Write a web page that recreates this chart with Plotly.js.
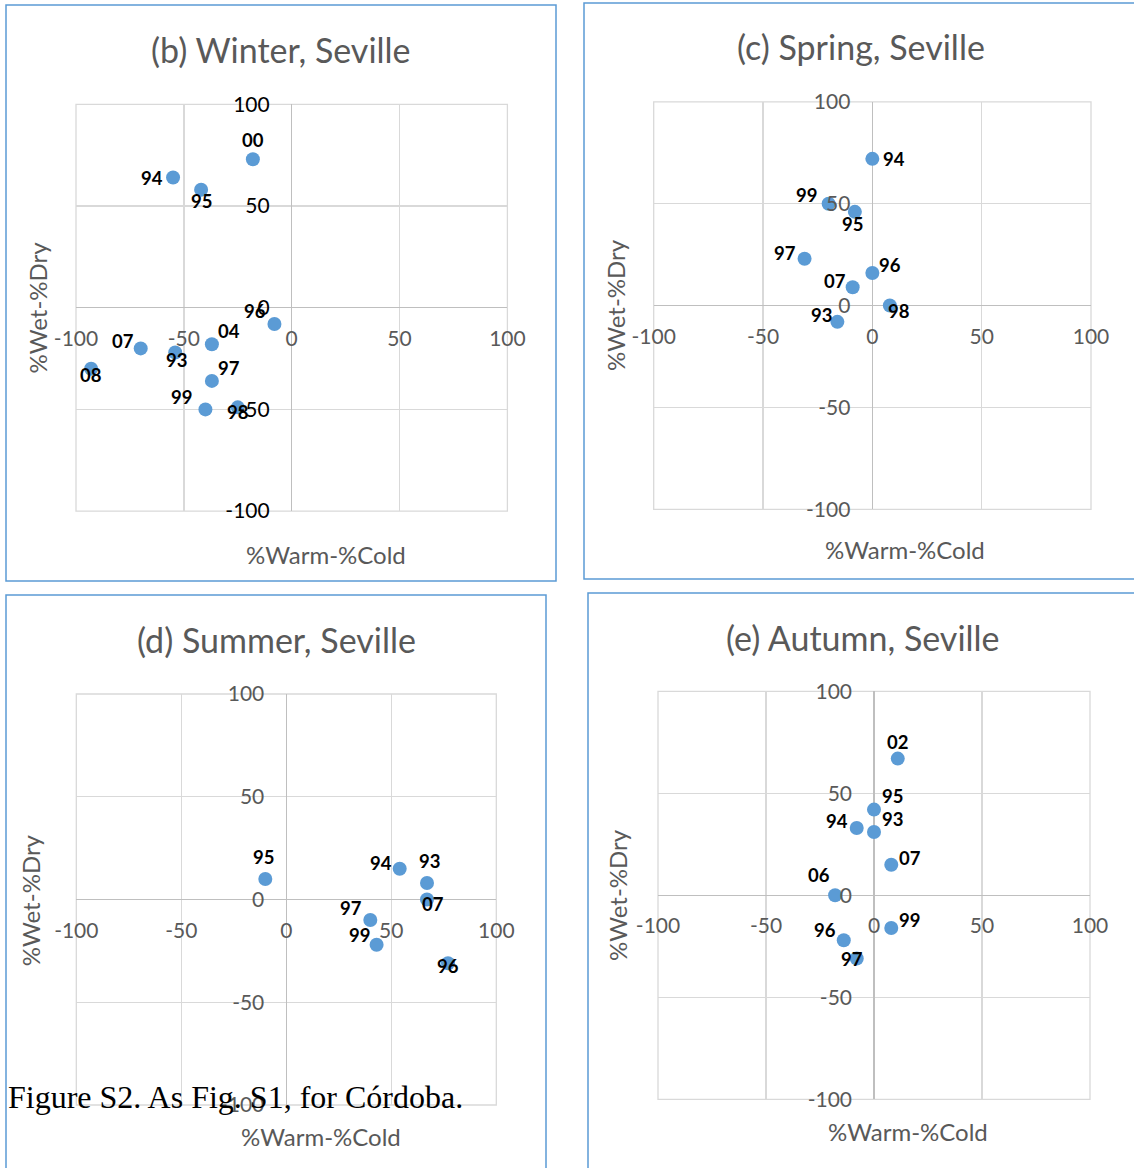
<!DOCTYPE html>
<html><head><meta charset="utf-8">
<script src="https://cdn.plot.ly/plotly-3.0.1.min.js"></script>
<style>html,body{margin:0;padding:0;background:#fff}</style>
</head><body><div id="chart" style="width:1134px;height:1168px"></div>
<script>
// ---- data ----
const tickVals = [-100, -50, 0, 50, 100];
const tickText = ["-100", "-50", "0", "50", "100"];

const winterYears = ["00","94","95","96","07","04","93","08","97","99","98"];
const winterWarmCold = [-18, -55, -42, -8, -70, -37, -54, -93, -37, -40, -25];
const winterWetDry   = [73, 64, 58, -8, -20, -18, -22, -30, -36, -50, -49];

const springYears = ["94","99","95","97","96","07","98","93"];
const springWarmCold = [0, -20, -8, -31, 0, -9, 8, -16];
const springWetDry   = [72, 50, 46, 23, 16, 9, 0, -8];

const summerYears = ["95","94","93","07","97","99","96"];
const summerWarmCold = [-10, 54, 67, 67, 40, 43, 77];
const summerWetDry   = [10, 15, 8, 0, -10, -22, -31];

const autumnYears = ["02","95","94","93","07","06","99","96","97"];
const autumnWarmCold = [11, 0, -8, 0, 8, -18, 8, -14, -8];
const autumnWetDry   = [67, 42, 33, 31, 15, 0, -16, -22, -31];

const panelTitles = ["(b) Winter, Seville", "(c) Spring, Seville", "(d) Summer, Seville", "(e) Autumn, Seville"];
const xTitle = "%Warm-%Cold";
const yTitle = "%Wet-%Dry";
const caption = "Figure S2. As Fig. S1, for Córdoba.";

// ---- label placement (style, px offsets: dx right, dy down) ----
const winterLabelOff = [[0,-19],[-21,0],[0,11],[-19,-13],[-18,-7],[17,-13],[1,8],[0,6],[17,-13],[-24,-12],[0,5]];
const springLabelOff = [[22,0],[-22,-9],[-2,12],[-20,-6],[18,-8],[-18,-6],[9,5],[-16,-7]];
const summerLabelOff = [[-2,-22],[-19,-6],[2,-22],[6,4],[-19,-12],[-17,-10],[0,3]];
const autumnLabelOff = [[0,-17],[18,-14],[-20,-7],[18,-13],[19,-7],[-16,-20],[18,-8],[-19,-10],[-5,0]];

// ---- layout geometry (px) ----
const W = 1134, H = 1168;
const px = v => v / W;
const py = v => 1 - v / H;

const panels = [
  {years: winterYears, xs: winterWarmCold, ys: winterWetDry, off: winterLabelOff, title: panelTitles[0],
   plot: [76, 507.4, 104.3, 511.1], titlePos: [281, 49], xtPos: [325.5, 554], ytPos: [37, 307.5],
   box: [6, 556, 5, 581], yTickColor: "#000000"},
  {years: springYears, xs: springWarmCold, ys: springWetDry, off: springLabelOff, title: panelTitles[1],
   plot: [653.7, 1091, 101.8, 509.3], titlePos: [861, 47], xtPos: [905, 549], ytPos: [615, 305],
   box: [584, 1140, 3, 579], yTickColor: "#595959"},
  {years: summerYears, xs: summerWarmCold, ys: summerWetDry, off: summerLabelOff, title: panelTitles[2],
   plot: [76.3, 496.3, 694, 1105], titlePos: [276, 639], xtPos: [321, 1136], ytPos: [30.5, 900.7],
   box: [6, 546, 595, 1172], yTickColor: "#595959"},
  {years: autumnYears, xs: autumnWarmCold, ys: autumnWetDry, off: autumnLabelOff, title: panelTitles[3],
   plot: [658, 1090, 691.3, 1099.3], titlePos: [863, 637], xtPos: [907.5, 1131], ytPos: [617, 895],
   box: [588, 1140, 593, 1172], yTickColor: "#595959"}
];

const FONT = "Lato, 'Open Sans', sans-serif";
const traces = [];
const layout = {
  width: W, height: H,
  margin: {l: 0, r: 0, t: 0, b: 0},
  paper_bgcolor: "#ffffff",
  plot_bgcolor: "#ffffff",
  showlegend: false,
  font: {family: FONT},
  shapes: [],
  annotations: []
};

panels.forEach((p, i) => {
  const n = i === 0 ? "" : String(i + 1);
  const xa = "xaxis" + n, ya = "yaxis" + n;
  const xr = "x" + n, yr = "y" + n;
  const [x0, x1, yTop, yBot] = p.plot;
  const xDom = [px(x0), px(x1)];
  const yDom = [py(yBot), py(yTop)];
  const xZero = (x0 + x1) / 2, yZero = (yTop + yBot) / 2;

  traces.push({
    type: "scatter", mode: "markers",
    x: p.xs, y: p.ys, text: p.years,
    xaxis: xr, yaxis: yr,
    marker: {color: "#5b9bd5", size: 14},
    hoverinfo: "text+x+y"
  });

  layout[xa] = {
    domain: xDom, range: [-100, 100], anchor: "free", position: py(yZero),
    tickvals: tickVals, ticktext: tickText, showgrid: true, gridcolor: "#d9d9d9", gridwidth: 1.3,
    zeroline: true, zerolinecolor: "#bfbfbf", zerolinewidth: 1.3, showline: false,
    ticks: "", ticklabelstandoff: 16,
    tickfont: {family: FONT, size: 21, color: "#595959"}, fixedrange: true
  };
  layout[ya] = {
    domain: yDom, range: [-100, 100], anchor: "free", position: px(xZero),
    tickvals: tickVals, ticktext: tickText, showgrid: true, gridcolor: "#d9d9d9", gridwidth: 1.3,
    zeroline: true, zerolinecolor: "#bfbfbf", zerolinewidth: 1.3, showline: false,
    ticks: "", ticklabelstandoff: 22,
    tickfont: {family: FONT, size: 21, color: p.yTickColor}, fixedrange: true
  };

  // plot-area frame (gridlines at ±100)
  layout.shapes.push({
    type: "rect", xref: xr + " domain", yref: yr + " domain",
    x0: 0, x1: 1, y0: 0, y1: 1,
    line: {color: "#d9d9d9", width: 1.3}, fillcolor: "rgba(0,0,0,0)", layer: "below"
  });

  // outer panel border
  layout.shapes.push({
    type: "rect", xref: "paper", yref: "paper",
    x0: px(p.box[0]), x1: px(p.box[1]), y0: py(p.box[3]), y1: py(p.box[2]),
    line: {color: "#5b9bd5", width: 1.5}, fillcolor: "rgba(0,0,0,0)", layer: "below"
  });

  // panel title
  layout.annotations.push({
    xref: "paper", yref: "paper", x: px(p.titlePos[0]), y: py(p.titlePos[1]),
    xanchor: "center", yanchor: "middle", showarrow: false, text: p.title,
    font: {family: FONT, size: 34, color: "#595959"}
  });
  // axis titles
  layout.annotations.push({
    xref: "paper", yref: "paper", x: px(p.xtPos[0]), y: py(p.xtPos[1]),
    xanchor: "center", yanchor: "middle", showarrow: false, text: xTitle,
    font: {family: FONT, size: 24, color: "#595959"}
  });
  layout.annotations.push({
    xref: "paper", yref: "paper", x: px(p.ytPos[0]), y: py(p.ytPos[1]),
    xanchor: "center", yanchor: "middle", showarrow: false, text: yTitle, textangle: -90,
    font: {family: FONT, size: 24, color: "#595959"}
  });

  // data labels
  p.years.forEach((lab, k) => {
    layout.annotations.push({
      xref: xr, yref: yr, x: p.xs[k], y: p.ys[k],
      xanchor: "center", yanchor: "middle", showarrow: false, text: lab,
      xshift: p.off[k][0], yshift: -p.off[k][1],
      font: {family: FONT, size: 18.5, color: "#000000", weight: "bold"}
    });
  });
});

// caption
layout.annotations.push({
  xref: "paper", yref: "paper", x: px(6), y: py(1097),
  xanchor: "left", yanchor: "middle", showarrow: false, text: caption,
  font: {family: "'Liberation Serif', 'Times New Roman', serif", size: 32, color: "#000000"}
});

Plotly.newPlot("chart", traces, layout, {displayModeBar: false, staticPlot: true});
</script>
</body></html>
